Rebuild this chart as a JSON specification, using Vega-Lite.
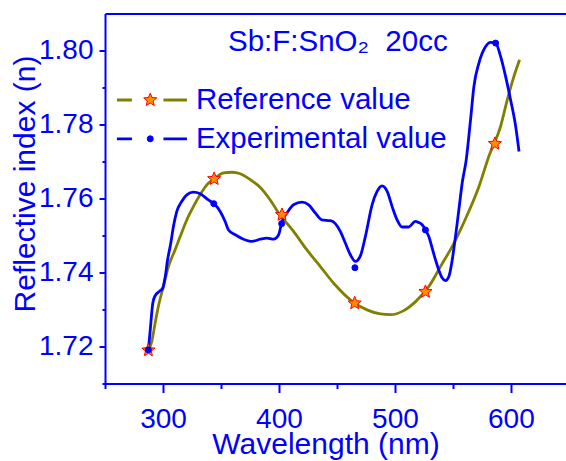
{
  "$schema": "https://vega.github.io/schema/vega-lite/v6.json",
  "width": 461,
  "height": 370,
  "autosize": {"type": "none"},
  "padding": {"left": 105, "top": 13.5, "right": 0, "bottom": 77.5},
  "background": "white",
  "config": {
    "view": {"stroke": null},
    "font": "Liberation Sans",
    "axis": {"grid": false}
  },
  "title": {
    "text": "Sb:F:SnO₂\u00a0 20cc",
    "orient": "top",
    "anchor": "start",
    "frame": "group",
    "dx": 123,
    "dy": 27.7,
    "offset": -39,
    "baseline": "alphabetic",
    "font": "Liberation Sans",
    "fontSize": 29.5,
    "fontWeight": "normal",
    "color": "#0000FF"
  },
  "data": {
    "values": [
      {"series": "Reference value", "wl": 288, "n": 1.7195},
      {"series": "Reference value", "wl": 290.3, "n": 1.7213},
      {"series": "Reference value", "wl": 293.2, "n": 1.7263},
      {"series": "Reference value", "wl": 296, "n": 1.7308},
      {"series": "Reference value", "wl": 300.3, "n": 1.7362},
      {"series": "Reference value", "wl": 304.7, "n": 1.7416},
      {"series": "Reference value", "wl": 310.4, "n": 1.7461},
      {"series": "Reference value", "wl": 314.8, "n": 1.7497},
      {"series": "Reference value", "wl": 320.5, "n": 1.7542},
      {"series": "Reference value", "wl": 326.2, "n": 1.7578},
      {"series": "Reference value", "wl": 332, "n": 1.761},
      {"series": "Reference value", "wl": 337.8, "n": 1.7637},
      {"series": "Reference value", "wl": 344.1, "n": 1.7653},
      {"series": "Reference value", "wl": 352.2, "n": 1.7669},
      {"series": "Reference value", "wl": 359.4, "n": 1.7671},
      {"series": "Reference value", "wl": 366.6, "n": 1.7667},
      {"series": "Reference value", "wl": 375.2, "n": 1.7651},
      {"series": "Reference value", "wl": 383.9, "n": 1.763},
      {"series": "Reference value", "wl": 392.5, "n": 1.7596},
      {"series": "Reference value", "wl": 399.7, "n": 1.7561},
      {"series": "Reference value", "wl": 412.6, "n": 1.7511},
      {"series": "Reference value", "wl": 424.1, "n": 1.7461},
      {"series": "Reference value", "wl": 435.7, "n": 1.7416},
      {"series": "Reference value", "wl": 447.2, "n": 1.7371},
      {"series": "Reference value", "wl": 465.3, "n": 1.7317},
      {"series": "Reference value", "wl": 475.9, "n": 1.7299},
      {"series": "Reference value", "wl": 487.5, "n": 1.7288},
      {"series": "Reference value", "wl": 496.1, "n": 1.7286},
      {"series": "Reference value", "wl": 507.6, "n": 1.7297},
      {"series": "Reference value", "wl": 518, "n": 1.7322},
      {"series": "Reference value", "wl": 529.2, "n": 1.7362},
      {"series": "Reference value", "wl": 539.3, "n": 1.7416},
      {"series": "Reference value", "wl": 550.8, "n": 1.7479},
      {"series": "Reference value", "wl": 562.4, "n": 1.7556},
      {"series": "Reference value", "wl": 572.4, "n": 1.7632},
      {"series": "Reference value", "wl": 581, "n": 1.7714},
      {"series": "Reference value", "wl": 591.1, "n": 1.7795},
      {"series": "Reference value", "wl": 596.9, "n": 1.7867},
      {"series": "Reference value", "wl": 602.6, "n": 1.793},
      {"series": "Reference value", "wl": 607.5, "n": 1.7975},
      {"series": "Experimental value", "wl": 287.4, "n": 1.7191},
      {"series": "Experimental value", "wl": 288.9, "n": 1.7241},
      {"series": "Experimental value", "wl": 291.2, "n": 1.7317},
      {"series": "Experimental value", "wl": 293.2, "n": 1.7337},
      {"series": "Experimental value", "wl": 296.9, "n": 1.7349},
      {"series": "Experimental value", "wl": 299.8, "n": 1.7358},
      {"series": "Experimental value", "wl": 301.2, "n": 1.7376},
      {"series": "Experimental value", "wl": 302.4, "n": 1.7398},
      {"series": "Experimental value", "wl": 303.5, "n": 1.7425},
      {"series": "Experimental value", "wl": 306.7, "n": 1.7479},
      {"series": "Experimental value", "wl": 309, "n": 1.7524},
      {"series": "Experimental value", "wl": 311.9, "n": 1.7565},
      {"series": "Experimental value", "wl": 316.1, "n": 1.7592},
      {"series": "Experimental value", "wl": 320.5, "n": 1.761},
      {"series": "Experimental value", "wl": 326.2, "n": 1.7617},
      {"series": "Experimental value", "wl": 332, "n": 1.7613},
      {"series": "Experimental value", "wl": 339.2, "n": 1.7596},
      {"series": "Experimental value", "wl": 345, "n": 1.7583},
      {"series": "Experimental value", "wl": 349.3, "n": 1.7565},
      {"series": "Experimental value", "wl": 353.6, "n": 1.7538},
      {"series": "Experimental value", "wl": 356.5, "n": 1.7515},
      {"series": "Experimental value", "wl": 362.3, "n": 1.7502},
      {"series": "Experimental value", "wl": 369.5, "n": 1.749},
      {"series": "Experimental value", "wl": 376.7, "n": 1.7484},
      {"series": "Experimental value", "wl": 383.9, "n": 1.749},
      {"series": "Experimental value", "wl": 389.6, "n": 1.7493},
      {"series": "Experimental value", "wl": 395.4, "n": 1.749},
      {"series": "Experimental value", "wl": 399.7, "n": 1.7502},
      {"series": "Experimental value", "wl": 402.6, "n": 1.7538},
      {"series": "Experimental value", "wl": 406.9, "n": 1.7561},
      {"series": "Experimental value", "wl": 412.6, "n": 1.7583},
      {"series": "Experimental value", "wl": 419.9, "n": 1.759},
      {"series": "Experimental value", "wl": 425.6, "n": 1.7583},
      {"series": "Experimental value", "wl": 431.3, "n": 1.7561},
      {"series": "Experimental value", "wl": 437.1, "n": 1.7542},
      {"series": "Experimental value", "wl": 444.3, "n": 1.754},
      {"series": "Experimental value", "wl": 448.6, "n": 1.7532},
      {"series": "Experimental value", "wl": 452.9, "n": 1.7511},
      {"series": "Experimental value", "wl": 457.3, "n": 1.7479},
      {"series": "Experimental value", "wl": 461.6, "n": 1.7448},
      {"series": "Experimental value", "wl": 465.9, "n": 1.743},
      {"series": "Experimental value", "wl": 470.2, "n": 1.7445},
      {"series": "Experimental value", "wl": 474.5, "n": 1.7497},
      {"series": "Experimental value", "wl": 480.3, "n": 1.7583},
      {"series": "Experimental value", "wl": 484.6, "n": 1.7619},
      {"series": "Experimental value", "wl": 488.9, "n": 1.7634},
      {"series": "Experimental value", "wl": 493.3, "n": 1.7619},
      {"series": "Experimental value", "wl": 497.6, "n": 1.7578},
      {"series": "Experimental value", "wl": 501.9, "n": 1.7542},
      {"series": "Experimental value", "wl": 506.2, "n": 1.7523},
      {"series": "Experimental value", "wl": 511.9, "n": 1.7523},
      {"series": "Experimental value", "wl": 517.6, "n": 1.7538},
      {"series": "Experimental value", "wl": 520.5, "n": 1.7535},
      {"series": "Experimental value", "wl": 523.5, "n": 1.7529},
      {"series": "Experimental value", "wl": 526.3, "n": 1.7515},
      {"series": "Experimental value", "wl": 529.2, "n": 1.7497},
      {"series": "Experimental value", "wl": 532.1, "n": 1.7466},
      {"series": "Experimental value", "wl": 535, "n": 1.7434},
      {"series": "Experimental value", "wl": 537.8, "n": 1.7407},
      {"series": "Experimental value", "wl": 540.8, "n": 1.7385},
      {"series": "Experimental value", "wl": 543.6, "n": 1.7378},
      {"series": "Experimental value", "wl": 546.5, "n": 1.7389},
      {"series": "Experimental value", "wl": 549.4, "n": 1.7434},
      {"series": "Experimental value", "wl": 552.2, "n": 1.7497},
      {"series": "Experimental value", "wl": 555.1, "n": 1.7569},
      {"series": "Experimental value", "wl": 558, "n": 1.7642},
      {"series": "Experimental value", "wl": 561.5, "n": 1.7705},
      {"series": "Experimental value", "wl": 565.2, "n": 1.7813},
      {"series": "Experimental value", "wl": 568.1, "n": 1.7903},
      {"series": "Experimental value", "wl": 572.4, "n": 1.7966},
      {"series": "Experimental value", "wl": 578.2, "n": 1.8011},
      {"series": "Experimental value", "wl": 582.5, "n": 1.8022},
      {"series": "Experimental value", "wl": 586.8, "n": 1.802},
      {"series": "Experimental value", "wl": 591.1, "n": 1.7984},
      {"series": "Experimental value", "wl": 595.4, "n": 1.793},
      {"series": "Experimental value", "wl": 599.7, "n": 1.7867},
      {"series": "Experimental value", "wl": 604.1, "n": 1.7795},
      {"series": "Experimental value", "wl": 607, "n": 1.7727},
      {"marker": "Reference value", "wl": 287.4, "n": 1.719},
      {"marker": "Reference value", "wl": 344.1, "n": 1.7653},
      {"marker": "Reference value", "wl": 402.6, "n": 1.7556},
      {"marker": "Reference value", "wl": 465.3, "n": 1.7317},
      {"marker": "Reference value", "wl": 526.3, "n": 1.7348},
      {"marker": "Reference value", "wl": 586.2, "n": 1.7748},
      {"marker": "Experimental value", "wl": 287.4, "n": 1.7191},
      {"marker": "Experimental value", "wl": 343.8, "n": 1.7586},
      {"marker": "Experimental value", "wl": 402.3, "n": 1.7532},
      {"marker": "Experimental value", "wl": 465.5, "n": 1.7413},
      {"marker": "Experimental value", "wl": 526.3, "n": 1.7515},
      {"marker": "Experimental value", "wl": 586.8, "n": 1.802}
    ]
  },
  "layer": [
    {
      "transform": [{"filter": "datum.series === 'Reference value'"}],
      "mark": {"type": "line", "interpolate": "monotone", "strokeWidth": 2.8},
      "encoding": {
        "x": {
          "field": "wl", "type": "quantitative",
          "scale": {"domain": [250, 647.5], "nice": false, "zero": false},
          "axis": {
            "orient": "bottom", "offset": 0, "values": [300, 400, 500, 600],
            "domainColor": "#0000FF", "domainWidth": 2,
            "tickColor": "#0000FF", "tickWidth": 2, "tickSize": 9,
            "labelColor": "#0000FF", "labelFontSize": 28, "labelPadding": 13,
            "title": "Wavelength (nm)", "titleColor": "#0000FF", "titleFontSize": 30, "titleFontWeight": "normal",
            "titleX": 220.5, "titleY": 70.3, "titleAlign": "center", "titleBaseline": "alphabetic"
          }
        },
        "y": {
          "field": "n", "type": "quantitative",
          "scale": {"domain": [1.71, 1.81], "nice": false, "zero": false},
          "axis": {
            "orient": "left", "offset": 0, "values": [1.72, 1.74, 1.76, 1.78, 1.8], "format": ".2f",
            "domainColor": "#0000FF", "domainWidth": 2,
            "tickColor": "#0000FF", "tickWidth": 2, "tickSize": 6,
            "labelColor": "#0000FF", "labelFontSize": 28, "labelPadding": 6,
            "title": "Reflective index (n)", "titleColor": "#0000FF", "titleFontSize": 30, "titleFontWeight": "normal",
            "titleX": -70.5, "titleY": 170, "titleAngle": 270, "titleAlign": "center", "titleBaseline": "alphabetic"
          }
        },
        "color": {
          "field": "series", "type": "nominal",
          "scale": {"domain": ["Reference value", "Experimental value"], "range": ["#808000", "#0000FF"]},
          "legend": {
            "title": null, "orient": "none", "legendX": 32.2, "legendY": 71.75, "padding": 0,
            "symbolType": "M-7,0H-4M2.3,0H7", "symbolSize": 100, "symbolStrokeWidth": 2.8,
            "labelFontSize": 29.5, "labelColor": "#0000FF", "labelOffset": 29.2, "labelLimit": 400, "rowPadding": 7.8
          }
        }
      }
    },
    {
      "transform": [{"filter": "datum.series === 'Experimental value'"}],
      "mark": {"type": "line", "interpolate": "monotone", "strokeWidth": 2.8},
      "encoding": {
        "x": {
          "field": "wl", "type": "quantitative",
          "axis": {"orient": "bottom", "offset": 0, "values": [250, 350, 450, 550], "labels": false, "domain": false, "tickColor": "#0000FF", "tickWidth": 2, "tickSize": 5, "title": null}
        },
        "y": {
          "field": "n", "type": "quantitative",
          "axis": {"orient": "left", "offset": 0, "values": [1.71, 1.73, 1.75, 1.77, 1.79], "labels": false, "domain": false, "tickColor": "#0000FF", "tickWidth": 2, "tickSize": 3, "title": null}
        },
        "color": {
          "field": "series", "type": "nominal",
          "legend": {
            "title": null, "orient": "none", "legendX": 32.2, "legendY": 71.75, "padding": 0,
            "symbolType": "M-7,0H-4M2.3,0H7", "symbolSize": 100, "symbolStrokeWidth": 2.8,
            "labelFontSize": 29.5, "labelColor": "#0000FF", "labelOffset": 29.2, "labelLimit": 400, "rowPadding": 7.8
          }
        }
      }
    },
    {
      "transform": [{"filter": "datum.marker != null"}],
      "mark": {"type": "point", "filled": true, "strokeWidth": 1, "opacity": 1},
      "encoding": {
        "x": {
          "field": "wl", "type": "quantitative",
          "axis": {"orient": "top", "offset": 0, "ticks": false, "labels": false, "domain": true, "domainColor": "#0000FF", "domainWidth": 2, "title": null}
        },
        "y": {"field": "n", "type": "quantitative", "axis": null},
        "shape": {
          "field": "marker", "type": "nominal", "sort": "descending",
          "scale": {"range": ["M0,-1L0.265,-0.364L0.951,-0.309L0.428,0.139L0.588,0.809L0,0.45L-0.588,0.809L-0.428,0.139L-0.951,-0.309L-0.265,-0.364Z", "circle"]},
          "legend": {"title": null, "orient": "none", "legendX": 30.5, "legendY": 71.75, "padding": 0, "labelFontSize": 29.5, "labelExpr": "''", "labelOffset": 29.2, "rowPadding": 7.8, "symbolStrokeWidth": 1}
        },
        "fill": {
          "field": "marker", "type": "nominal", "sort": "descending",
          "scale": {"range": ["#FF8C00", "#0000FF"]},
          "legend": {"title": null, "orient": "none", "legendX": 30.5, "legendY": 71.75, "padding": 0, "labelFontSize": 29.5, "labelExpr": "''", "labelOffset": 29.2, "rowPadding": 7.8, "symbolStrokeWidth": 1}
        },
        "stroke": {
          "field": "marker", "type": "nominal", "sort": "descending",
          "scale": {"range": ["#FF0000", "#0000FF"]},
          "legend": {"title": null, "orient": "none", "legendX": 30.5, "legendY": 71.75, "padding": 0, "labelFontSize": 29.5, "labelExpr": "''", "labelOffset": 29.2, "rowPadding": 7.8, "symbolStrokeWidth": 1}
        },
        "size": {
          "field": "marker", "type": "nominal", "sort": "descending",
          "scale": {"range": [187, 36]},
          "legend": {"title": null, "orient": "none", "legendX": 30.5, "legendY": 71.75, "padding": 0, "labelFontSize": 29.5, "labelExpr": "''", "labelOffset": 29.2, "rowPadding": 7.8, "symbolStrokeWidth": 1}
        }
      }
    }
  ],
  "resolve": {"axis": {"x": "independent", "y": "independent"}}
}
